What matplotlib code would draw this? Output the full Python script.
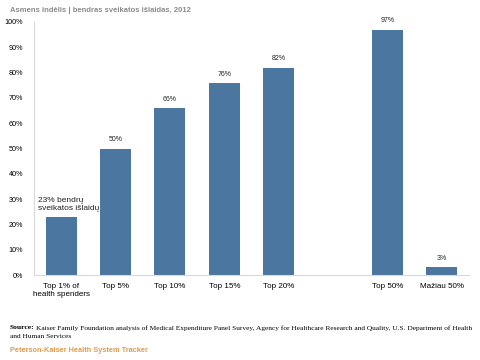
import matplotlib.pyplot as plt
from matplotlib.ticker import PercentFormatter

plt.rcParams["font.family"] = ["Liberation Sans", "DejaVu Sans"]

categories = ["Top 1% of\nhealth spenders", "Top 5%", "Top 10%", "Top 15%", "Top 20%", "", "Top 50%", "Mažiau 50%"]
values = [23, 50, 66, 76, 82, None, 97, 3]
labels = ["23% bendrų\nsveikatos išlaidų", "50%", "66%", "76%", "82%", "", "97%", "3%"]

bar_color = "#4a76a0"

fig = plt.figure(figsize=(4.8, 3.6), dpi=100)
ax = fig.add_axes([0.071, 0.236, 0.906, 0.703])

xs = [i for i, v in enumerate(values) if v is not None]
ys = [v for v in values if v is not None]
ax.bar(xs, ys, width=0.57, color=bar_color)

for i, v in enumerate(values):
    if v is None:
        continue
    if i == 0:
        ax.text(i - 0.42, v + 2, labels[i], ha="left", va="bottom", fontsize=6, color="#222222",
                linespacing=1.1)
    else:
        ax.text(i, v + 2, labels[i], ha="center", va="bottom", fontsize=5, color="#222222")

ax.set_xlim(-0.5, 7.5)
ax.set_ylim(0, 100)
ax.set_yticks(range(0, 101, 10))
ax.yaxis.set_major_formatter(PercentFormatter(decimals=0))
ax.set_xticks(range(len(categories)))
ax.set_xticklabels(categories, fontsize=5.8)
ax.tick_params(axis="y", labelsize=5.2, length=0, pad=8)
ax.tick_params(axis="x", length=0, pad=6)
for s in ["top", "right"]:
    ax.spines[s].set_visible(False)
for s in ["left", "bottom"]:
    ax.spines[s].set_color("#d9d9d9")
    ax.spines[s].set_linewidth(0.8)

fig.text(0.02, 0.972, "Asmens indėlis | bendras sveikatos išlaidas, 2012", fontsize=5.5,
         color="#8c8c8c", fontweight="bold", va="center")

fig.text(0.02, 0.089, "Source:", fontsize=5.4, family="Liberation Serif", fontweight="bold", va="center")
fig.text(0.075, 0.089, "Kaiser Family Foundation analysis of Medical Expenditure Panel Survey, Agency for Healthcare Research and Quality, U.S. Department of Health",
         fontsize=5.3, family="Liberation Serif", va="center")
fig.text(0.02, 0.066, "and Human Services", fontsize=5.3, family="Liberation Serif", va="center")
fig.text(0.02, 0.025, "Peterson-Kaiser Health System Tracker", fontsize=5.3, color="#e39b4b",
         fontweight="bold", va="center")

fig.savefig("out.png", dpi=100)
